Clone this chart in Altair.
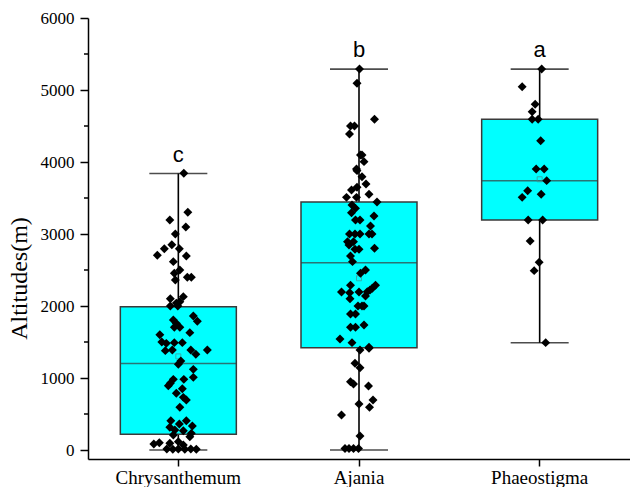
import altair as alt
import pandas as pd

# ---- data ----
categories = ["Chrysanthemum", "Ajania", "Phaeostigma"]
whisker_lo = [0, 0, 1490]
q1 = [220, 1420, 3195]
median = [1200, 2600, 3740]
q3 = [1990, 3445, 4595]
whisker_hi = [3840, 5290, 5290]
means = [1300, 2385, 3760]
letters = ["c", "b", "a"]

y_ticks = [0, 1000, 2000, 3000, 4000, 5000, 6000]
y_minor = [500, 1500, 2500, 3500, 4500, 5500]

chrys_val = [3843, 3301, 3194, 3097, 3000, 2852, 2796, 2796, 2704, 2694, 2616, 2500, 2454, 2361, 2398, 2398,
             2102, 2130, 2060, 2000, 2000, 2040, 1806, 1759, 1861, 1787, 1704, 1704, 1630, 1602, 1500, 1481,
             1491, 1491, 1380, 1389, 1389, 1329, 1389, 1236, 1190, 1120, 1009, 981, 981, 926, 893, 852, 787,
             694, 731, 593, 407, 361, 407, 333, 315, 278, 268, 231, 208, 185, 102, 93, 116, 70, 15, 10, 15,
             10, 15, 10, 83]
chrys_dx = [5.5, 9.5, -8.5, 7.5, -3, -6.5, -14, 1, -21, 8, -5, 1.5, -4, -3, 9, 13,
            -8, 5, 1.5, -8, -0.5, -2, -5, -2, 15, 19, 1.5, -4, 11.5, -18.5, -16.5, -12,
            -4, 4, -13, -6, 12.5, 17.5, 29, 2.5, 0, 15, 15, 5.5, -5, -8, -10, 4, -2,
            8, 5, 1.5, -7.5, 1, 8, 14, -8.5, -3.5, 5, 13, -5, 11.5, -19, -8.5, 0, 5, -11.5, -5.5, 0,
            6.5, 12.5, 18, -24.5]

ajania_val = [5292, 5093, 4593, 4500, 4500, 4389, 4097, 4097, 4005, 3903, 3880, 3796, 3694, 3611, 3648, 3551,
              3509, 3509, 3444, 3403, 3356, 3296, 3250, 3194, 3194, 3111, 3000, 3000, 3000, 3000, 3000,
              2894, 2894, 2847, 2787, 2787, 2801, 2694, 2616, 2500, 2454, 2287, 2287, 2246, 2222, 2199,
              2194, 2194, 2185, 2102, 2139, 2000, 2000, 2000, 1889, 1889, 1704, 1704, 1736, 1542, 1491,
              1426, 1412, 1389, 1204, 1143, 949, 917, 889, 694, 639, 593, 486, 194, 20, 20, 20, 20]
ajania_dx = [0.5, -2, 15.5, -8.5, -4.5, -9.5, 1.5, 3, 5, -2.5, -2, 3, 7, -7.5, -2, 10,
             -12.5, -2.5, 18, -7, -3.5, -7.5, 15, -3.5, 1, 11.5, -9.5, -4, 1, 10, 13,
             -11.5, -5.5, -10, -4, 0, 15.5, -8.5, -6.5, 6.5, 1.5, 16.5, -8.5, 13.3, 11, 8.3,
             -17.5, 0, -9.3, -9, 6.5, 3, -1, 5, -8.5, -3.5, -8.5, -3.5, 5, -19, -7,
             10, 10, 1, -4, 1, -8.5, -5.5, 9.5, 14, 0, 10.5, -17.5, 1, -14, -10, -5.5, -0.5]

phaeo_val = [5292, 5046, 4801, 4699, 4593, 4593, 4296, 3903, 3903, 3741, 3602, 3509, 3551, 3194, 3194,
             2903, 2607, 2491, 1491]
phaeo_dx = [2, -17.5, -4.5, -7.5, -7.5, -1.5, 1, -3.5, 4.5, 7, -12, -17.5, 1.5, -11.5, 3,
            -9.5, -0.5, -5.5, 6]

# ---- tables ----
stats = pd.DataFrame({"cat": categories, "lo": whisker_lo, "q1": q1, "med": median,
                      "q3": q3, "hi": whisker_hi, "mean": means, "letter": letters})
pts = pd.DataFrame({
    "cat": [categories[0]] * len(chrys_val) + [categories[1]] * len(ajania_val) + [categories[2]] * len(phaeo_val),
    "val": chrys_val + ajania_val + phaeo_val,
    "dx": chrys_dx + ajania_dx + phaeo_dx,
})
minor = pd.DataFrame({"v": y_minor})

W, H = 542, 441
BAND = W / 3
SERIF = "Liberation Serif"

yscale = alt.Scale(domain=[-125, 6000], nice=False, zero=False)
xscale = alt.Scale(domain=categories, paddingInner=0, paddingOuter=0)
yaxis = alt.Axis(values=y_ticks, format="d", title="Altitudes(m)", titleX=-62, titleY=260,
                 titleBaseline="alphabetic", titleAlign="center", titleAngle=-90,
                 labelFont=SERIF, titleFont=SERIF, labelFontSize=17, titleFontSize=24,
                 titleFontWeight="normal", tickSize=8, labelPadding=6)
xaxis = alt.Axis(title=None, labelAngle=0, labelFont=SERIF, labelFontSize=19, tickSize=7, labelPadding=2)


def X():
    return alt.X("cat:N", scale=xscale, axis=xaxis, sort=categories)


def Y(field):
    return alt.Y(field, type="quantitative", scale=yscale, axis=yaxis)


base = alt.Chart(stats)

whisk = base.mark_rule(color="black", strokeWidth=1.6).encode(x=X(), y=Y("lo"), y2="hi")
cap_lo = base.mark_tick(color="black", size=58, thickness=1.6).encode(x=X(), y=Y("lo"))
cap_hi = base.mark_tick(color="black", size=58, thickness=1.6).encode(x=X(), y=Y("hi"))
box = base.mark_bar(size=116, fill="#00FFFF", stroke="#3a3a3a", strokeWidth=1.5).encode(
    x=X(), y=Y("q1"), y2="q3")
med = base.mark_tick(color="#3a3a3a", size=116, thickness=1.5).encode(x=X(), y=Y("med"))
mean_m = base.mark_point(shape="square", size=25, filled=False, color="#4a8c8c", strokeWidth=1).encode(
    x=X(), y=Y("mean"))

points = alt.Chart(pts).mark_point(shape="diamond", filled=True, color="black", size=80, opacity=1).encode(
    x=X(),
    xOffset=alt.XOffset("dx:Q", scale=alt.Scale(domain=[-BAND / 2, BAND / 2], range=[0, BAND])),
    y=Y("val"),
)

text = base.mark_text(font="Liberation Sans", fontSize=22, color="black", baseline="alphabetic",
                      dy=-12).encode(x=X(), y=Y("hi"), text="letter:N")

minor_ticks = alt.Chart(minor).mark_rule(color="black", strokeWidth=1.5).encode(
    y=Y("v"), x=alt.value(-4), x2=alt.value(0))

chart = alt.layer(whisk, cap_lo, cap_hi, box, med, mean_m, points, text, minor_ticks).properties(
    width=W, height=H,
    autosize=alt.AutoSizeParams(type="none"),
    padding={"left": 88, "top": 18, "right": 0, "bottom": 28},
).configure_view(stroke=None).configure_axis(
    grid=False, domainColor="black", domainWidth=1.5, tickColor="black", tickWidth=1.5,
    labelColor="black", titleColor="black",
)

chart.save("out.html", embed_options={"renderer": "svg", "actions": False})
